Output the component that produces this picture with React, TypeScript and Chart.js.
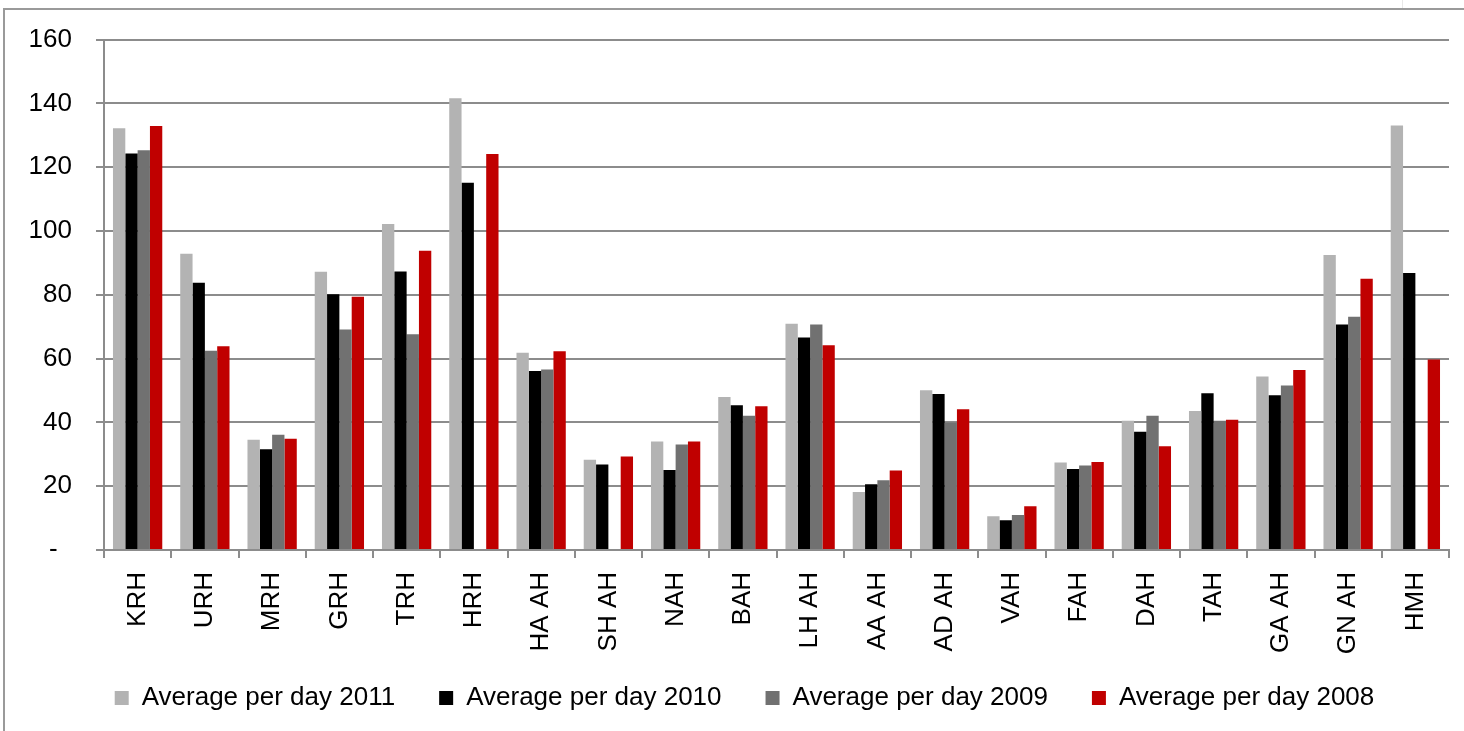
import React, { useEffect, useRef } from "react";
import { Chart, registerables } from "chart.js";

Chart.register(...registerables);

const categories = ["KRH", "URH", "MRH", "GRH", "TRH", "HRH", "HA AH", "SH AH", "NAH", "BAH", "LH AH", "AA AH", "AD AH", "VAH", "FAH", "DAH", "TAH", "GA AH", "GN AH", "HMH"];
const avg2011 = [132.2, 92.9, 34.6, 87.2, 102.2, 141.6, 61.8, 28.3, 34.0, 48.0, 70.9, 18.2, 50.1, 10.6, 27.4, 40.5, 43.6, 54.4, 92.5, 133.1];
const avg2010 = [124.3, 83.8, 31.6, 80.2, 87.3, 115.1, 56.1, 26.8, 25.1, 45.4, 66.6, 20.6, 48.9, 9.3, 25.4, 37.1, 49.1, 48.5, 70.7, 86.8];
const avg2009 = [125.3, 62.5, 36.1, 69.1, 67.6, null, 56.6, null, 33.1, 42.1, 70.7, 21.9, 40.0, 11.0, 26.5, 42.1, 40.5, 51.6, 73.1, null];
const avg2008 = [132.9, 63.9, 34.9, 79.4, 93.8, 124.1, 62.3, 29.3, 34.0, 45.1, 64.2, 24.9, 44.1, 13.7, 27.6, 32.5, 40.8, 56.4, 85.0, 59.7];
const seriesNames = ["Average per day 2011", "Average per day 2010", "Average per day 2009", "Average per day 2008"];
const seriesColors = ["#B3B3B3", "#000000", "#717171", "#C00000"];
const yTicks = [0, 20, 40, 60, 80, 100, 120, 140, 160];

const FONT = { family: "'Liberation Sans', Arial, sans-serif", size: 26 };
const GRID = "#8c8c8c";

const frame = {
  id: "outerFrame",
  afterLayout(chart: any) {
    // let the rotated category labels extend below the axis box (avoid clipping)
    const x = chart.scales.x;
    if (x) x.bottom = chart.height;
    // centre the legend like the reference
    const lg = chart.legend;
    if (lg) {
      lg.left += 15;
      lg.right += 15;
    }
  },
  beforeDraw(chart: any) {
    const ctx = chart.ctx;
    ctx.save();
    ctx.fillStyle = "#ffffff";
    ctx.fillRect(0, 0, chart.width, chart.height);
    ctx.strokeStyle = "#9a9a9a";
    ctx.lineWidth = 2;
    ctx.beginPath();
    ctx.moveTo(4, chart.height);
    ctx.lineTo(4, 9);
    ctx.lineTo(chart.width, 9);
    ctx.stroke();
    ctx.strokeStyle = "#e8e8e8";
    ctx.lineWidth = 1;
    ctx.beginPath();
    ctx.moveTo(1402.5, 0);
    ctx.lineTo(1402.5, 8);
    ctx.stroke();
    ctx.restore();
  },
};

export default function App() {
  const ref = useRef<HTMLCanvasElement | null>(null);
  useEffect(() => {
    if (!ref.current) return;
    const data = [avg2011, avg2010, avg2009, avg2008];
    const chart = new Chart(ref.current, {
      type: "bar",
      data: {
        labels: categories,
        datasets: data.map((d, i) => ({
          label: seriesNames[i],
          data: d,
          backgroundColor: seriesColors[i],
          borderWidth: 0,
          categoryPercentage: 0.733,
          barPercentage: 1,
        })),
      },
      options: {
        animation: false,
        responsive: false,
        devicePixelRatio: 1,
        layout: { padding: { left: 10, right: 15, top: 37, bottom: 10 } },
        plugins: {
          tooltip: { enabled: false },
          legend: {
            position: "bottom",
            labels: {
              font: FONT,
              color: "#000",
              boxWidth: 14,
              boxHeight: 14,
              padding: 44,
            },
          },
        },
        scales: {
          x: {
            grid: {
              offset: true,
              drawOnChartArea: false,
              drawTicks: true,
              tickLength: 8,
              color: GRID,
              lineWidth: 2,
            },
            border: { display: true, color: GRID, width: 2 },
            ticks: {
              font: FONT,
              color: "#000",
              minRotation: 90,
              maxRotation: 90,
              autoSkip: false,
              padding: 14,
            },
            afterFit: (s: any) => {
              s.height = 91;
            },
          },
          y: {
            min: 0,
            max: 160,
            afterBuildTicks: (s: any) => {
              s.ticks = yTicks.map((v) => ({ value: v }));
            },
            grid: {
              color: GRID,
              lineWidth: 2,
              drawTicks: true,
              tickLength: 8,
            },
            border: { display: true, color: GRID, width: 2 },
            ticks: {
              font: FONT,
              color: "#000",
              padding: 24,
              callback: (v: any) => (Number(v) === 0 ? "-  " : String(v)),
            },
            afterFit: (s: any) => {
              s.width = 94;
            },
          },
        },
      },
      plugins: [frame],
    });
    return () => chart.destroy();
  }, []);
  return (
    <div style={{ position: "fixed", left: 0, top: 0, width: 1464, height: 731, background: "#fff" }}>
      <canvas ref={ref} width={1464} height={731} style={{ display: "block" }} />
    </div>
  );
}
